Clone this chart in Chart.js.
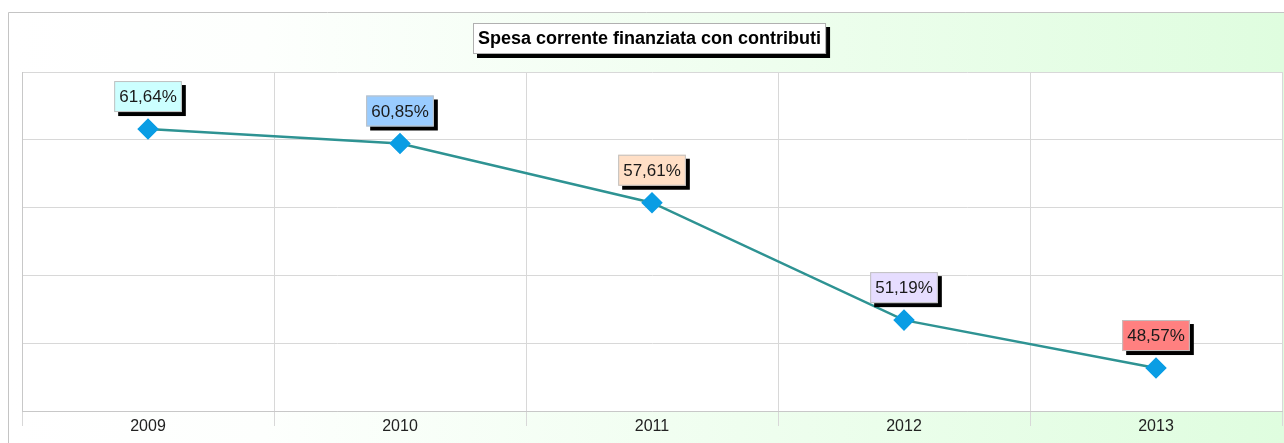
<!DOCTYPE html>
<html>
<head>
  <title>Spesa corrente finanziata con contributi</title>
  <script src="https://cdn.jsdelivr.net/npm/chart.js"></script>
  <style>
    body { margin: 0; background: #fff; }
    #wrap { width: 1284px; height: 443px; }
  </style>
</head>
<body>
  <div id="wrap"><canvas id="lineChart" width="1284" height="443"></canvas></div>

  <script>
    const years = ['2009', '2010', '2011', '2012', '2013'];
    const values = [61.64, 60.85, 57.61, 51.19, 48.57];
    const labelColors = ['#ccffff', '#99ccff', '#ffdfc6', '#e6ddff', '#ff8080'];
    const yTicks = [46.22, 49.93, 53.64, 57.35, 61.05, 64.76];
    const title = 'Spesa corrente finanziata con contributi';

    const fmt = v => v.toFixed(2).replace('.', ',') + '%';

    // sfondo, cornice, titolo ed etichette
    const decor = {
      id: 'decor',
      beforeDraw(chart) {
        const ctx = chart.ctx;
        const a = chart.chartArea;
        ctx.save();
        ctx.fillStyle = '#fff';
        ctx.fillRect(0, 0, chart.width, chart.height);
        const g = ctx.createLinearGradient(8, 0, chart.width, 0);
        g.addColorStop(0, '#ffffff');
        g.addColorStop(0.2, '#fdfffd');
        g.addColorStop(1, '#dffddf');
        ctx.fillStyle = g;
        ctx.fillRect(8, 12, chart.width - 8, chart.height - 12);
        ctx.strokeStyle = '#c4c4c4';
        ctx.lineWidth = 1;
        ctx.beginPath();
        ctx.moveTo(8.5, chart.height);
        ctx.lineTo(8.5, 12.5);
        ctx.lineTo(chart.width, 12.5);
        ctx.stroke();
        ctx.fillStyle = '#fff';
        ctx.fillRect(a.left, a.top, a.right - a.left, a.bottom - a.top);
        ctx.restore();
      },
      afterDatasetsDraw(chart) {
        const ctx = chart.ctx;
        ctx.save();
        // titolo
        ctx.font = 'bold 18px Arial, "Liberation Sans"';
        const tw = ctx.measureText(title).width;
        const tx = 473, ty = 23, tWidth = tw + 10, tH = 31;
        ctx.fillStyle = '#000';
        ctx.fillRect(tx + 4, ty + 4, tWidth, tH);
        ctx.fillStyle = '#fff';
        ctx.fillRect(tx, ty, tWidth, tH);
        ctx.strokeStyle = '#b0b0b0';
        ctx.strokeRect(tx + 0.5, ty + 0.5, tWidth - 1, tH - 1);
        ctx.fillStyle = '#000';
        ctx.textBaseline = 'middle';
        ctx.textAlign = 'center';
        ctx.fillText(title, tx + tWidth / 2, ty + tH / 2 + 1);

        // etichette dei valori
        ctx.font = '17px Arial, "Liberation Sans"';
        const meta = chart.getDatasetMeta(0);
        meta.data.forEach((pt, i) => {
          const txt = fmt(values[i]);
          const w = ctx.measureText(txt).width + 10;
          const h = 31;
          const x = pt.x - w / 2;
          const y = pt.y - 17 - h;
          ctx.fillStyle = '#000';
          ctx.fillRect(x + 4, y + 4, w, h);
          ctx.fillStyle = labelColors[i];
          ctx.fillRect(x, y, w, h);
          ctx.strokeStyle = '#c0c0c0';
          ctx.strokeRect(x + 0.5, y + 0.5, w - 1, h - 1);
          ctx.fillStyle = '#1a1a1a';
          ctx.fillText(txt, pt.x, y + h / 2 + 1);
        });
        ctx.restore();
      }
    };

    new Chart(document.getElementById('lineChart'), {
      type: 'line',
      data: {
        labels: years,
        datasets: [{
          data: values,
          borderColor: '#2e9393',
          borderWidth: 2.5,
          pointStyle: 'rectRot',
          pointRadius: 9,
          pointBackgroundColor: '#0a9de4',
          pointBorderColor: '#0a9de4',
          tension: 0
        }]
      },
      options: {
        responsive: false,
        animation: false,
        layout: { autoPadding: false, padding: { left: 22, right: 2, top: 72, bottom: 0 } },
        plugins: { legend: { display: false }, tooltip: { enabled: false } },
        scales: {
          x: {
            offset: true,
            grid: { offset: true, color: '#d8d8d8', tickLength: 15 },
            border: { color: '#c8c8c8' },
            ticks: { color: '#222', font: { family: 'Arial, "Liberation Sans"', size: 16 }, padding: -9 },
            afterFit: scale => { scale.height = 32; }
          },
          y: {
            min: yTicks[0],
            max: yTicks[yTicks.length - 1],
            afterBuildTicks: axis => { axis.ticks = yTicks.map(v => ({ value: v })); },
            grid: { color: '#d8d8d8', tickLength: 0 },
            border: { color: '#c8c8c8' },
            ticks: { display: false }
          }
        }
      },
      plugins: [decor]
    });
  </script>
</body>
</html>
